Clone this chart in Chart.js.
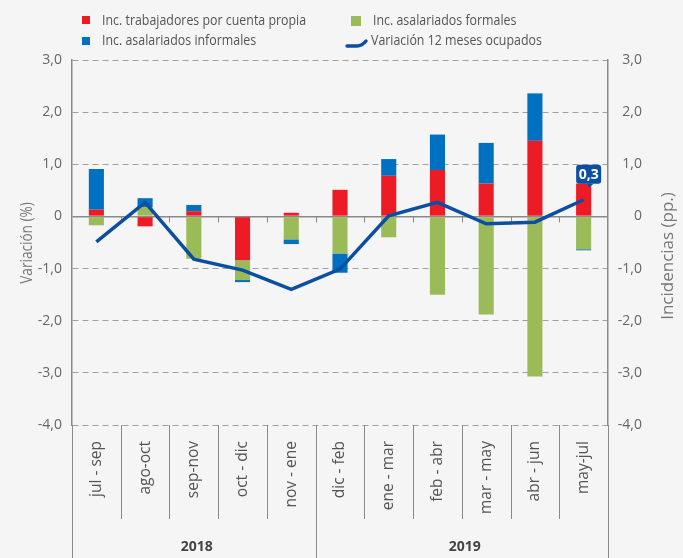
<!DOCTYPE html>
<html>
<head>
<meta charset="utf-8">
<script src="https://cdn.jsdelivr.net/npm/chart.js@4/dist/chart.umd.min.js"></script>
<style>
  body { margin: 0; background: #f5f5f5; }
  #grafico { display: block; }
</style>
</head>
<body>
<canvas id="grafico" width="683" height="558"></canvas>
<script>
// datos
const periodos = ['jul - sep', 'ago-oct', 'sep-nov', 'oct - dic', 'nov - ene',
                  'dic - feb', 'ene - mar', 'feb - abr', 'mar - may', 'abr - jun', 'may-jul'];
const anios = ['2018', '2019'];
const periodosPorAnio = [5, 6];

const cuentaPropia = [0.13, -0.19, 0.10, -0.84, 0.07, 0.51, 0.78, 0.89, 0.63, 1.45, 0.63];
const formales     = [-0.17, 0.18, -0.81, -0.38, -0.44, -0.71, -0.40, -1.50, -1.88, -3.07, -0.63];
const informales   = [0.78, 0.17, 0.12, -0.04, -0.09, -0.37, 0.32, 0.68, 0.78, 0.91, -0.02];
const variacion    = [-0.49, 0.27, -0.82, -1.03, -1.40, -1.01, 0.01, 0.27, -0.14, -0.11, 0.32];

const nombresSeries = ['Inc. trabajadores por cuenta propia', 'Inc. asalariados formales',
                       'Inc. asalariados informales', 'Variación 12 meses ocupados'];
const tituloIzq = 'Variación (%)';
const tituloDer = 'Incidencias (pp.)';

const ROJO = '#ED1C24', VERDE = '#9BBB59', AZUL = '#0070C0', AZUL_LINEA = '#0B4EA2';
const FAMILIA = "'Open Sans', sans-serif";

const fmt = v => v === 0 ? '0' : v.toFixed(1).replace('.', ',');

// texto algo estrecho, como la fuente del original
function textoEstrecho(c, txt, x, y, factor) {
    c.save();
    c.translate(x, y);
    c.scale(factor, 1);
    c.fillText(txt, 0, 0);
    c.restore();
}

const fondo = {
    id: 'fondo',
    beforeDraw(chart) {
        const c = chart.ctx;
        c.save();
        c.fillStyle = '#f5f5f5';
        c.fillRect(0, 0, chart.width, chart.height);
        c.restore();
    }
};

// separadores de categorias, marcas en el cero, años, titulos y leyenda
const extras = {
    id: 'extras',
    beforeDatasetsDraw(chart) {
        const c = chart.ctx, xs = chart.scales.x, y0 = chart.scales.y.getPixelForValue(0);
        c.save();
        c.strokeStyle = '#8a8a8a';
        c.lineWidth = 1;
        for (let i = 1; i < periodos.length; i++) {
            const x = Math.round(xs.getPixelForValue(i - 0.5)) + 0.5;
            c.beginPath(); c.moveTo(x, y0); c.lineTo(x, y0 + 6); c.stroke();
        }
        c.restore();
    },
    afterDraw(chart) {
        const c = chart.ctx, xs = chart.scales.x, area = chart.chartArea;
        const bordes = [0];
        periodosPorAnio.forEach(n => bordes.push(bordes[bordes.length - 1] + n));
        c.save();
        c.strokeStyle = '#8a8a8a';
        c.lineWidth = 1;
        for (let i = 0; i <= periodos.length; i++) {
            const x = Math.round(xs.getPixelForValue(i - 0.5)) + 0.5;
            const largo = bordes.includes(i) ? chart.height : area.bottom + 94;
            c.beginPath(); c.moveTo(x, area.bottom); c.lineTo(x, largo); c.stroke();
        }
        c.fillStyle = '#444';
        c.font = 'bold 14px ' + FAMILIA;
        c.textAlign = 'center';
        c.textBaseline = 'middle';
        anios.forEach((a, k) => {
            const x1 = xs.getPixelForValue(bordes[k] - 0.5), x2 = xs.getPixelForValue(bordes[k + 1] - 0.5);
            c.fillText(a, (x1 + x2) / 2 + 3, 547);
        });

        // titulos de ejes
        c.fillStyle = '#777';
        c.font = '16px ' + FAMILIA;
        c.save(); c.translate(27, 243); c.rotate(-Math.PI / 2); textoEstrecho(c, tituloIzq, 0, 0, 0.85); c.restore();
        c.font = '17px ' + FAMILIA;
        c.save(); c.translate(668, 256); c.rotate(-Math.PI / 2); c.fillText(tituloDer, 0, 0); c.restore();

        // leyenda
        c.fillStyle = ROJO; c.fillRect(82, 16, 8, 8);
        c.fillStyle = AZUL; c.fillRect(82, 37, 8, 8);
        c.fillStyle = VERDE; c.fillRect(351, 16, 10, 10);
        c.strokeStyle = AZUL_LINEA; c.lineWidth = 3.5; c.lineCap = 'round';
        c.beginPath(); c.moveTo(347, 46); c.lineTo(357, 46); c.quadraticCurveTo(362, 46, 366, 41); c.stroke();
        c.font = '14px ' + FAMILIA;
        c.textAlign = 'left';
        c.fillStyle = '#555';
        textoEstrecho(c, nombresSeries[0], 102, 21, 0.885);
        textoEstrecho(c, nombresSeries[2], 102, 41, 0.885);
        textoEstrecho(c, nombresSeries[1], 373, 21, 0.885);
        textoEstrecho(c, nombresSeries[3], 371, 41, 0.885);
        c.restore();
    },
    afterDatasetsDraw(chart) {
        // etiqueta del ultimo dato de la linea
        const c = chart.ctx;
        const meta = chart.getDatasetMeta(3);
        const pt = meta.data[meta.data.length - 1];
        const cx = pt.x + 5, cy = pt.y - 25.5, w = 25, h = 19;
        c.save();
        c.fillStyle = AZUL_LINEA;
        c.beginPath();
        c.roundRect(cx - w / 2, cy - h / 2, w, h, 3);
        c.fill();
        c.beginPath();
        c.moveTo(cx - 1, cy + h / 2); c.lineTo(cx + 5, cy + h / 2); c.lineTo(cx, cy + h / 2 + 4);
        c.fill();
        c.fillStyle = '#fff';
        c.font = 'bold 14px ' + FAMILIA;
        c.textAlign = 'center';
        c.textBaseline = 'middle';
        c.fillText(fmt(variacion[variacion.length - 1]), cx, cy + 0.5);
        c.restore();
    }
};

new Chart(document.getElementById('grafico'), {
    type: 'bar',
    data: {
        labels: periodos,
        datasets: [
            { label: nombresSeries[0], data: cuentaPropia, backgroundColor: ROJO, yAxisID: 'y', order: 1 },
            { label: nombresSeries[1], data: formales, backgroundColor: VERDE, yAxisID: 'y', order: 1 },
            { label: nombresSeries[2], data: informales, backgroundColor: AZUL, yAxisID: 'y', order: 1 },
            { type: 'line', label: nombresSeries[3], data: variacion, borderColor: AZUL_LINEA, borderWidth: 3.5,
              pointRadius: 0, tension: 0, yAxisID: 'y2', order: 0 }
        ]
    },
    options: {
        responsive: false,
        animation: false,
        layout: { padding: { top: 60, right: 41, left: 0, bottom: 0 } },
        plugins: { legend: { display: false }, tooltip: { enabled: false } },
        datasets: { bar: { barPercentage: 0.31, categoryPercentage: 1 } },
        scales: {
            x: {
                stacked: true,
                offset: true,
                grid: { display: false, drawTicks: false },
                border: { display: false },
                ticks: { minRotation: 90, maxRotation: 90, autoSkip: false, padding: 16,
                         color: '#555', font: { size: 15.5, family: FAMILIA } },
                afterFit(s) { s.height = 133; }
            },
            y: {
                position: 'left',
                stacked: true,
                min: -4, max: 3,
                ticks: { stepSize: 1, padding: 10, callback: fmt, color: '#666', font: { size: 14, family: FAMILIA } },
                grid: {
                    drawTicks: false,
                    color: c => c.tick && c.tick.value === 0 ? '#8a8a8a' : '#a0a0a0',
                    lineWidth: c => c.tick && c.tick.value === 0 ? 1.5 : 1
                },
                border: { display: true, color: '#8a8a8a', width: 1.5,
                          dash: c => c.tick && c.tick.value === 0 ? [] : [6, 4] },
                afterFit(s) { s.width = 72; }
            },
            y2: {
                position: 'right',
                min: -4, max: 3,
                ticks: { stepSize: 1, padding: 0, crossAlign: 'far', callback: fmt, color: '#666',
                         font: { size: 14, family: FAMILIA } },
                grid: { display: false, drawTicks: false },
                border: { display: true, color: '#8a8a8a', width: 1.5 },
                afterFit(s) { s.width = 34; }
            }
        }
    },
    plugins: [fondo, extras]
});
</script>
</body>
</html>
